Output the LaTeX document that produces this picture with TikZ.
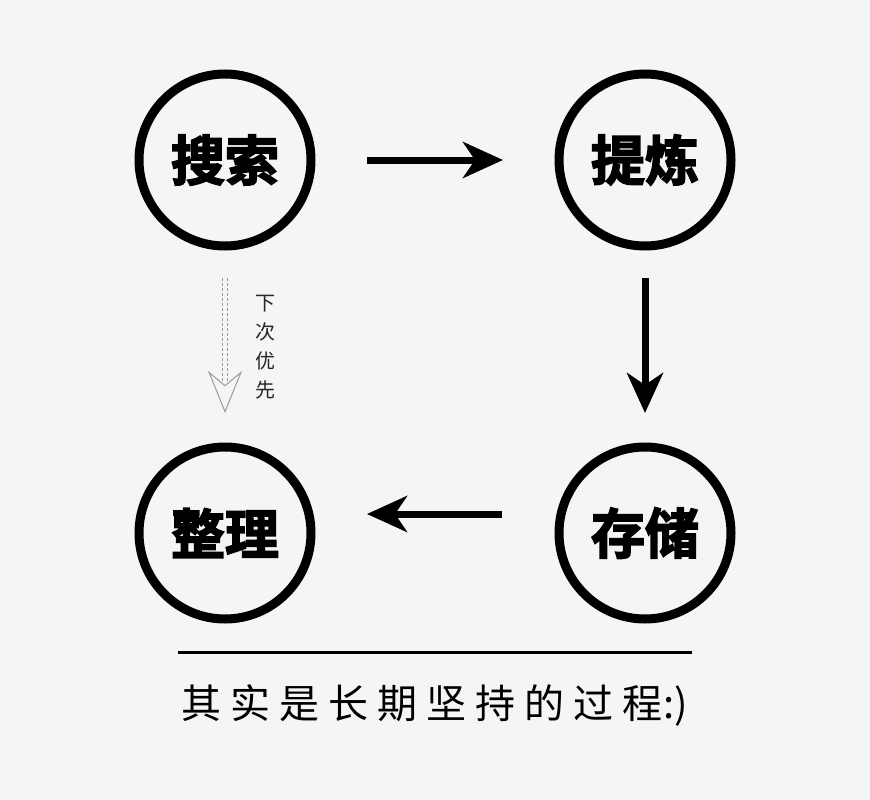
\documentclass[tikz,border=0pt]{standalone}
\usepackage{fontspec}
\usetikzlibrary{arrows.meta}
\newfontfamily\cjkbold[FakeBold=3]{Noto Sans CJK SC Bold}
\newfontfamily\cjkreg{Noto Sans CJK SC}
\definecolor{bgc}{HTML}{F4F5F7}
\definecolor{dashc}{HTML}{9A9A9A}
\tikzset{
  stagecircle/.style={circle, draw=black, line width=9pt, minimum size=172pt, inner sep=0pt, font=\cjkbold\fontsize{54}{54}\selectfont},
  flowarrow/.style={line width=7pt, -{Stealth[length=40pt,width=36pt,inset=12pt]}},
  hintarrow/.style={draw=dashc, double=bgc, double distance=4pt, line width=1pt, dash pattern=on 3pt off 2pt, -{Stealth[length=42pt,width=34pt,inset=14pt,open,fill=bgc]}}
}
\begin{document}
\begin{tikzpicture}[x=1pt,y=-1pt]
\fill[bgc] (0,0) rectangle (870,800);
\useasboundingbox (0,0) rectangle (870,800);
\node[stagecircle] (search) at (225,160) {搜索};
\node[stagecircle] (refine) at (645,160) {提炼};
\node[stagecircle] (store) at (645,533) {存储};
\node[stagecircle] (organize) at (225,533) {整理};
\coordinate (a1s) at (367,160); \coordinate (a1e) at (503,160);
\coordinate (a2s) at (645,278); \coordinate (a2e) at (645,413);
\coordinate (a3s) at (502,514); \coordinate (a3e) at (367,514);
\coordinate (a4s) at (225,278); \coordinate (a4e) at (225,413);
\draw[flowarrow] (a1s) -- (a1e);
\draw[flowarrow] (a2s) -- (a2e);
\draw[flowarrow] (a3s) -- (a3e);
\draw[hintarrow] (a4s) -- (a4e);
\node[font=\cjkreg\fontsize{20}{29}\selectfont, align=center, text=black!85] (hint) at (265,347) {下\\次\\优\\先};
\coordinate (ls) at (178,652); \coordinate (le) at (692,652);
\draw[line width=3pt] (ls) -- (le);
\node[font=\cjkreg\fontsize{40}{40}\selectfont] (motto) at (435,705) {其\kern9pt 实\kern9pt 是\kern9pt 长\kern9pt 期\kern9pt 坚\kern9pt 持\kern9pt 的\kern9pt 过\kern9pt 程\kern1pt :)};
\end{tikzpicture}
\end{document}
